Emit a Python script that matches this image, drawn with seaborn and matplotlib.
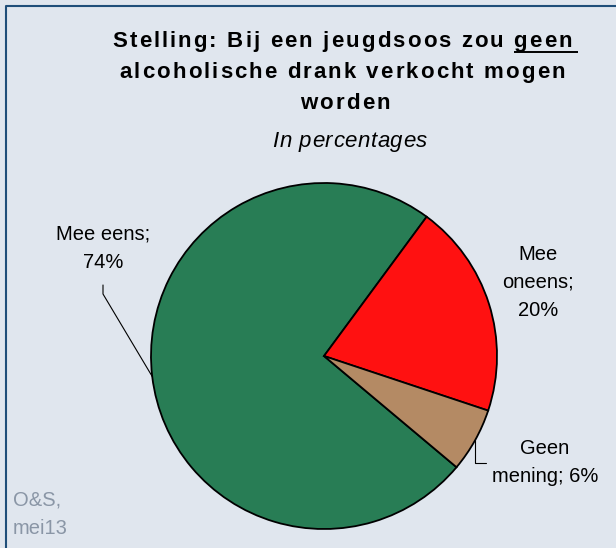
import matplotlib.pyplot as plt
import seaborn as sns
import numpy as np

# chart data
categories = ['Mee eens', 'Mee oneens', 'Geen mening']
percentages = [74, 20, 6]
slice_colors = ['#287D55', '#FF1111', '#B48A64']

title_lines = ['Stelling: Bij een jeugdsoos zou geen',
               'alcoholische drank verkocht mogen',
               'worden']
subtitle = 'In percentages'
source_note = 'O&S,\nmei13'

sns.set_theme(style='white')
plt.rcParams['font.family'] = ['Liberation Sans', 'DejaVu Sans']

W, H = 616, 548
bg = '#E0E6EE'

fig = plt.figure(figsize=(W / 100, H / 100), dpi=100)
fig.patch.set_facecolor(bg)
ax = fig.add_axes([0, 0, 1, 1])


def py(y):
    # image-style y (from top) to data y
    return H - y


cx, cy, r = 324, py(356), 173
wedges, _ = ax.pie(percentages, colors=slice_colors, startangle=320, counterclock=False,
                   center=(cx, cy), radius=r, frame=True,
                   wedgeprops=dict(edgecolor='black', linewidth=1.3))
ax.set_xlim(0, W)
ax.set_ylim(0, H)
ax.set_aspect('equal')
ax.axis('off')

# frame lines (left and top)
ax.plot([6, 6, W], [0, py(6), py(6)], color='#1F4E79', lw=1.5, solid_capstyle='butt')

fig.canvas.draw()
rend = fig.canvas.get_renderer()


def text_w(s, **kw):
    t = ax.text(0, 0, s, **kw)
    w = t.get_window_extent(rend).width
    t.remove()
    return w


def tracked(xc, yb, s, track, **kw):
    # draw a line of text with extra letter spacing, centred on xc
    base = text_w('xx', **kw)
    adv = [text_w('x' + c + 'x', **kw) - base for c in s]
    total = sum(adv) + track * (len(s) - 1)
    x = xc - total / 2
    pos = []
    for c, a in zip(s, adv):
        ax.text(x, yb, c, ha='left', va='baseline', **kw)
        pos.append((x, x + a))
        x += a + track
    return pos


def edge_point(w):
    mid = np.deg2rad((w.theta1 + w.theta2) / 2)
    return cx + r * np.cos(mid), cy + r * np.sin(mid)


lbl = dict(fontsize=14.5, color='black', ha='center', va='center', linespacing=1.6)

# Mee eens
ax.text(103, py(248), f'{categories[0]};\n{percentages[0]}%', **lbl)
ex, ey = edge_point(wedges[0])
ax.plot([ex, 103, 103], [ey, py(294), py(285)], color='black', lw=0.8)

# Mee oneens
ax.text(538, py(282), f'Mee\noneens;\n{percentages[1]}%', **lbl)

# Geen mening
ax.text(545, py(462.5), f'Geen\nmening; {percentages[2]}%', **lbl)
ex, ey = edge_point(wedges[2])
ax.plot([ex, ex, ex + 11], [ey, py(463), py(463)], color='black', lw=0.8)

# title with Excel-like letter spacing
tkw = dict(fontsize=16, fontweight='bold', color='black')
pos = tracked(342, py(47), title_lines[0], 2.1, **tkw)
tracked(342, py(78), title_lines[1], 2.1, **tkw)
tracked(345, py(109), title_lines[2], 2.1, **tkw)
# underline "geen "
ux0 = pos[-4][0]
ux1 = pos[-1][1] + 6
ax.plot([ux0, ux1], [py(51.5), py(51.5)], color='black', lw=1.4, solid_capstyle='butt')

tracked(350, py(147), subtitle, 0.6, fontsize=16, fontstyle='italic', color='black')

ax.text(13, py(514), source_note, fontsize=14.5, color='#8A96A6', ha='left', va='center',
        linespacing=1.6)

fig.savefig('out.png', dpi=100, facecolor=bg)
